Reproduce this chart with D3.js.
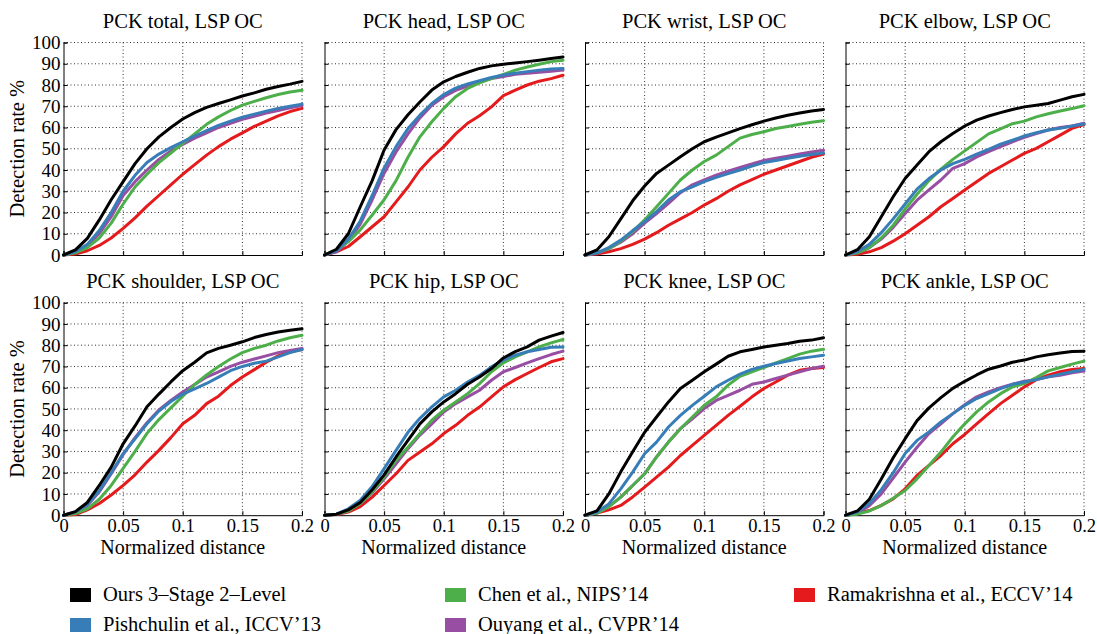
<!DOCTYPE html>
<html><head><meta charset="utf-8">
<script src="https://cdn.jsdelivr.net/npm/d3@7"></script>
<style>
html,body{margin:0;padding:0;background:#fff;}
svg text{font-family:'Liberation Serif','Times New Roman','DejaVu Serif',serif !important;fill:#000;}
</style></head>
<body>
<svg id="chart" width="1097" height="634"></svg>
<script>
// thresholds (normalized distance)
const thresholds = [0,0.01,0.02,0.03,0.04,0.05,0.06,0.07,0.08,0.09,0.1,0.11,0.12,0.13,0.14,0.15,0.16,0.17,0.18,0.19,0.2];
const xTicks = [0,0.05,0.1,0.15,0.2];
const xTickLabels = ["0","0.05","0.1","0.15","0.2"];
const yTicks = [0,10,20,30,40,50,60,70,80,90,100];
const methods = ["Ours 3\u2013Stage 2\u2013Level","Pishchulin et al., ICCV\u201913","Chen et al., NIPS\u201914","Ouyang et al., CVPR\u201914","Ramakrishna et al., ECCV\u201914"];
const colors = ["#000000","#377eb8","#4daf4a","#984ea3","#e41a1c"];
const panelTitles = ["PCK total, LSP OC","PCK head, LSP OC","PCK wrist, LSP OC","PCK elbow, LSP OC","PCK shoulder, LSP OC","PCK hip, LSP OC","PCK knee, LSP OC","PCK ankle, LSP OC"];

// each panel: [ours, pishchulin, chen, ouyang, ramakrishna]
const pckTotal = [
 [0,2.4,7.8,16.5,26,34.5,43,50,55.6,60,64,67,69.5,71.3,73,74.8,76.3,78,79.3,80.4,81.7],
 [0,1.5,5,11.5,20,30,37.5,43.5,47.5,50.5,53.3,56,58.5,61,63,64.8,66.3,67.7,69,70,71],
 [0,1,3.5,8,15,24,32,38,43.5,48,52.5,57,61.5,65,68,70.5,72.3,74,75.5,76.7,77.5],
 [0,1.2,4.5,10,18,28,34.5,40,45,49,52,55,57.5,60,62,63.8,65.3,66.8,68,69.3,70.3],
 [0,0.5,2,4.5,8,12.5,17.5,23,28,33,38,42.5,47,51,54.5,57.5,60.5,63,65.5,67.5,69]
];
const pckHead = [
 [0,2.7,10,22.7,35,49.4,59,66,72,77.6,81.5,84,86,87.8,89,89.8,90.4,91,91.7,92.5,93.2],
 [0,2,7.5,16,28,41,51,59.5,65.8,71.3,75.5,78.5,80.5,82,83.5,84.7,85.5,86.3,87,87.5,87.8],
 [0,2.3,6.3,11.8,18.8,26,35,46,55.6,62.7,69,74.5,78.4,81,83,85,87,88.5,89.8,91,91.7],
 [0,1.5,6.5,14.5,26,38.5,48.5,57,64.5,70.5,74.5,77.5,79.5,81.5,83,84,85,85.5,86,86.5,87],
 [0,1.5,4,8.6,13.3,18,25,32,40,46,51,57,62,65.5,69.7,75,77.6,80,81.8,83,84.6]
];
const pckWrist = [
 [0,2.4,8.6,17,25.5,32.5,38.4,42.3,46.2,50,53.3,55.5,57.5,59.5,61.3,63,64.5,65.8,66.8,67.8,68.5],
 [0,1,3.5,7,11.5,15.7,20.4,25.9,29.8,32.1,34.5,36.5,38.3,40,41.8,43.5,44.5,45.5,46.5,47.3,48],
 [0,1,3,6.5,11,16.5,22.7,29,35.3,40,44,47,51,55,56.7,58,59.5,60.5,61.5,62.5,63.2],
 [0,0.8,3,6,10,15,19.5,24.3,29.3,33,35.3,37.6,39.5,41.2,42.8,44.5,45.5,46.5,47.5,48.5,49.3],
 [0,0.5,1.5,3,5,7.5,10.5,14,17,20,23.5,26.5,30,33,35.5,38,40,42,44,46,47.5]
];
const pckElbow = [
 [0,2.5,8.6,18,27.4,36,42.3,48.6,53.3,57.2,60.7,63.5,65.4,67,68.5,69.7,70.5,71.3,72.9,74.5,75.6],
 [0,1.5,5,10.5,17,24,31,36,40,43,45,47.5,49.7,52.2,54,56,57.5,58.8,59.6,60.7,61.6],
 [0,1,3.5,8,14,21.6,28.6,35,40.4,45,49,53,57,59.4,61.8,63,65,66.5,67.8,68.9,70.2],
 [0,1,3.5,7.5,13,19.5,25.8,30.6,35.3,40.8,43,46.2,48.6,51,53.3,55.4,57.2,58.8,60,60.7,62],
 [0,0.3,1.5,3.5,6.5,10,14,18,22.7,26.6,30.6,34.5,38.4,41.5,44.7,47.8,50.2,53.3,56.4,59.6,61.4]
];
const pckShoulder = [
 [0,1.7,6,14,22.6,33.6,42,51,57,62.7,68,72,76.4,78.5,80,81.6,83.6,85,86.2,87,87.7],
 [0,1.5,5,11.5,20,29,36,43,49,53.5,57,59.5,62,65,68,70,71.5,72.5,74.5,76.5,78],
 [0,0.8,3,7.5,14,22,30,38.5,45,50.5,56,61.5,66,70,73.5,76.5,78.5,80,82,83.5,84.7],
 [0,1.2,4.5,11,19.5,28.5,36.5,43.5,49.5,54,58,61.5,65,67.5,70,72,73.5,75,76.5,77.5,78.5],
 [0,0.3,2.5,5.5,9.5,14,19,25,30.5,36.5,43,47,52.5,56,61,65,68.5,72,75,77,78]
];
const pckHip = [
 [0,0.5,2.5,6,12,19,27.4,35.2,43,48.6,53.3,57.2,61.6,65,69,74,77,79.2,82.4,84.3,86],
 [0,0.5,3,7,13.5,21.9,30.5,39,45.6,51,55.7,58.8,62.7,65.8,69.8,73,75.3,76.9,78,79,79.2],
 [0,0.5,2,5.5,11,18,25.8,32,38.4,44.7,49.4,53.3,57.2,61.9,67.5,71.7,74.5,76.9,79.2,81.1,82.7],
 [0,0.5,2,5.5,10.5,17.1,24.2,31.3,37.7,43,48.6,52.5,55.7,58.8,63.5,67.5,69.5,71.7,73.7,75.6,77.2],
 [0,0.3,1.5,4,8.5,14,19.5,25.8,29.7,33.6,38.4,42.3,47,50.9,55.7,60.4,63.8,66.7,69.5,72.2,73.7]
];
const pckKnee = [
 [0,2,10,20.4,29.9,39,46.2,53.3,59.6,63.5,67.5,71.1,74.8,76.9,78,79.2,80,80.8,81.9,82.4,83.5],
 [0,1.5,5.3,12.4,20.3,28.9,34.4,41.5,47,51.7,56,60.4,63.5,66.4,68.6,70.1,71.4,72.6,73.7,74.5,75.3],
 [0,1,4,8.5,14,19.5,27.4,34.4,40.7,46.2,51.7,55.7,61.2,65.4,67.5,69.5,71.7,73.7,75.8,77.2,78.1],
 [0,1,4,8.5,14,19.5,27.4,34.4,40.7,45.4,50.2,54,56.4,58.8,61.6,62.7,64.3,65.9,67.5,69,70.1],
 [0,1,2.5,4.6,8.6,13.2,17.9,22.6,28.1,32.9,37.6,42.3,47,51.3,55.7,59.6,62.7,65.9,68.2,69,69.5]
];
const pckAnkle = [
 [0,2,7.5,17,27,36,44.5,50.5,55.3,59.7,63,66,68.7,70.2,72,73,74.5,75.5,76.3,77,77.2],
 [0,1.5,5.5,12,20,29,35.2,39.2,43.9,47.8,51.7,54.9,57.2,59.6,61.6,62.7,63.8,65.1,66.4,67.5,68.6],
 [0,0.5,2,4.5,8,11.6,17.1,23.4,29.7,36.8,43,48.6,53.3,57.2,60.4,61.9,64.8,67.9,69.5,71.1,72.5],
 [0,1,4.5,10,17.5,25,32,38.4,43,47.8,52,55.7,58,60,61.6,63,63.8,65.1,65.9,67,67.8],
 [0,1,2.2,4.6,7.7,12.4,18.7,23.4,28.1,33.6,38,43,47.8,52.5,56.4,60.4,63.8,65.9,67.5,68.6,69]
];
const panelData = [pckTotal,pckHead,pckWrist,pckElbow,pckShoulder,pckHip,pckKnee,pckAnkle];

const FONT = "'Liberation Serif','Times New Roman','DejaVu Serif',serif";
const svg = d3.select("#chart");
const colLeft = [63.5,324.5,585,845.5];
const rowTop = [42.5,302.7];
const pw = 238.5, ph = 212.5;
const drawOrder = [4,3,2,1,0];

panelData.forEach((series,pi)=>{
  const r = Math.floor(pi/4), c = pi%4;
  const g = svg.append("g").attr("transform",`translate(${colLeft[c]},${rowTop[r]})`);
  const x = d3.scaleLinear().domain([0,0.2]).range([0,pw]);
  const y = d3.scaleLinear().domain([0,100]).range([ph,0]);
  // grid
  g.append("g").selectAll("line").data(xTicks.slice(1)).join("line")
    .attr("x1",d=>x(d)).attr("x2",d=>x(d)).attr("y1",0).attr("y2",ph)
    .attr("stroke","#333").attr("stroke-width",1).attr("stroke-dasharray","1,2.5");
  g.append("g").selectAll("line").data(yTicks.slice(1)).join("line")
    .attr("x1",0).attr("x2",pw).attr("y1",d=>y(d)).attr("y2",d=>y(d))
    .attr("stroke","#333").attr("stroke-width",1).attr("stroke-dasharray","1,2.5");
  // axes
  const ax = g.append("g").attr("transform",`translate(0,${ph})`)
    .call(d3.axisBottom(x).tickValues(xTicks).tickSize(-4).tickPadding(4).tickFormat((d,i)=> r===1 ? xTickLabels[i] : ""));
  ax.attr("font-family",FONT).attr("font-size",18.5);
  ax.select(".domain").attr("stroke","#000");
  const ay = g.append("g")
    .call(d3.axisLeft(y).tickValues(yTicks).tickSize(-4).tickPadding(3).tickFormat(d=> c===0 ? d : ""));
  ay.attr("font-family",FONT).attr("font-size",19);
  ay.select(".domain").attr("stroke","#000");
  // lines
  const line = d3.line().x((d,i)=>x(thresholds[i])).y(d=>y(d));
  drawOrder.forEach(mi=>{
    g.append("path").datum(series[mi]).attr("d",line)
      .attr("fill","none").attr("stroke",colors[mi]).attr("stroke-width",3)
      .attr("stroke-linejoin","round").attr("stroke-linecap","round");
  });
  // title
  g.append("text").attr("x",pw/2).attr("y",-15).attr("text-anchor","middle")
    .attr("font-family",FONT).attr("font-size",20.5).text(panelTitles[pi]);
  if(c===0){
    g.append("text").attr("transform",`translate(${17-colLeft[c]},${ph/2}) rotate(-90)`)
      .attr("text-anchor","middle").attr("dominant-baseline","central")
      .attr("font-family",FONT).attr("font-size",20.5).text("Detection rate %");
  }
  if(r===1){
    g.append("text").attr("x",pw/2).attr("y",ph+39).attr("text-anchor","middle")
      .attr("font-family",FONT).attr("font-size",20).text("Normalized distance");
  }
});

// legend (column-major, 2 rows)
const legX = [70,445,794];
const legY = [595,625];
methods.forEach((m,i)=>{
  const col = Math.floor(i/2), row = i%2;
  const lg = svg.append("g").attr("transform",`translate(${legX[col]},${legY[row]})`);
  lg.append("rect").attr("x",0).attr("y",-7).attr("width",21).attr("height",14).attr("fill",colors[i]);
  lg.append("text").attr("x",33).attr("y",6).attr("font-family",FONT).attr("font-size",20.5).text(m);
});
</script>
</body></html>
